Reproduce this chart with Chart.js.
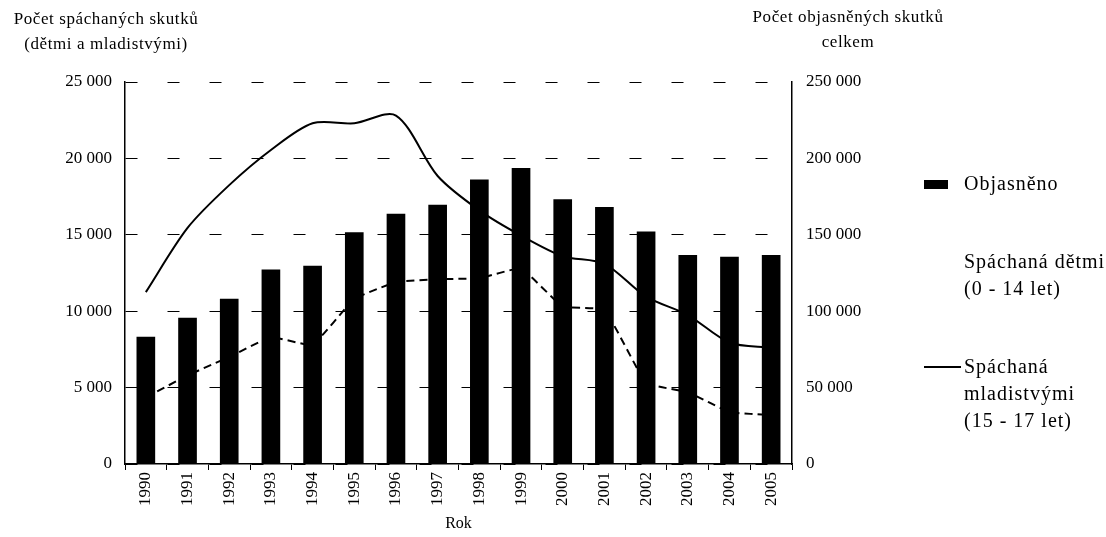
<!DOCTYPE html>
<html lang="cs">
<head>
<meta charset="utf-8">
<title>Objasněné a spáchané skutky</title>
<script src="https://cdn.jsdelivr.net/npm/chart.js@4"></script>
<style>
    body { margin: 0; background: #fff; }
    #wrap { position: relative; width: 1106px; height: 537px; font-family: "Liberation Serif", "Times New Roman", serif; color: #000; }
    #wrap canvas { position: absolute; left: 0; top: 0; }
    .axisTitle { position: absolute; font-size: 17px; letter-spacing: 0.6px; text-align: center; line-height: 25px; white-space: nowrap; }
    .legend { position: absolute; left: 922px; font-size: 20px; letter-spacing: 1px; line-height: 27px; white-space: nowrap; }
    .legend .item { position: absolute; left: 0; }
    .legend .txt { position: absolute; left: 42px; }
    .legend .box { position: absolute; left: 2px; width: 24px; height: 9px; background: #000; }
    .legend .line { position: absolute; left: 2px; width: 37px; border-top: 2px solid #000; }
</style>
</head>
<body>
<div id="wrap">
    <canvas id="casesChart" width="1106" height="537"></canvas>
    <div class="axisTitle" style="left: 0px; top: 6px; width: 212px;">Počet spáchaných skutků<br>(dětmi a mladistvými)</div>
    <div class="axisTitle" style="left: 730px; top: 4px; width: 236px;">Počet objasněných skutků<br>celkem</div>
    <div class="legend" id="legend"></div>
</div>

<script>
const years = ['1990', '1991', '1992', '1993', '1994', '1995', '1996', '1997',
               '1998', '1999', '2000', '2001', '2002', '2003', '2004', '2005'];

// objasněné skutky celkem (pravá osa)
const objasneno = [83000, 95500, 108000, 127000, 129500, 151500, 163500, 169500,
                   186000, 193500, 173000, 168000, 152000, 136500, 135500, 136500];

// spáchané skutky (levá osa)
const detmi = [4350, 5800, 7000, 8300, 7800, 10800, 11900, 12100,
               12150, 12800, 10300, 10100, 5300, 4700, 3400, 3200];
const mladistvi = [11250, 15450, 18250, 20550, 22300, 22300, 22800, 18850,
                   16600, 14950, 13600, 13100, 10950, 9750, 7950, 7600];

const leftTicks = [0, 5000, 10000, 15000, 20000, 25000];
const rightTicks = [0, 50000, 100000, 150000, 200000, 250000];

const labelObjasneno = 'Objasněno';
const labelDetmi = ['Spáchaná dětmi', '(0 - 14 let)'];
const labelMladistvi = ['Spáchaná', 'mladistvými', '(15 - 17 let)'];

function fmt(v) {
    return String(v).replace(/\B(?=(\d{3})+(?!\d))/g, ' ');
}

const tickFont = { family: '"Liberation Serif", serif', size: 17 };

const ctx = document.getElementById('casesChart').getContext('2d');
const chart = new Chart(ctx, {
    type: 'bar',
    data: {
        labels: years,
        datasets: [
            {
                label: labelObjasneno,
                data: objasneno,
                yAxisID: 'y1',
                backgroundColor: '#000',
                barThickness: 18,
                order: 0
            },
            {
                type: 'line',
                label: labelDetmi.join(' '),
                data: detmi,
                yAxisID: 'y',
                borderColor: '#000',
                borderWidth: 2,
                borderDash: [8, 5],
                pointRadius: 0,
                tension: 0.1,
                fill: false,
                order: 1
            },
            {
                type: 'line',
                label: labelMladistvi.join(' '),
                data: mladistvi,
                yAxisID: 'y',
                borderColor: '#000',
                borderWidth: 2,
                pointRadius: 0,
                tension: 0.3,
                fill: false,
                order: 1
            }
        ]
    },
    options: {
        responsive: false,
        animation: false,
        layout: { padding: { top: 82, right: 224, left: 0, bottom: 0 } },
        plugins: {
            legend: { display: false },
            tooltip: { enabled: false }
        },
        scales: {
            x: {
                grid: { offset: true, drawOnChartArea: false, color: '#000', tickLength: 6 },
                border: { color: '#000', width: 1.5 },
                ticks: { color: '#000', font: tickFont, minRotation: 90, maxRotation: 90, padding: 2 },
                title: { display: true, text: 'Rok', color: '#000', font: { family: '"Liberation Serif", serif', size: 16 }, padding: { top: 2, bottom: 4 } },
                afterFit: s => { s.height = 73; }
            },
            y: {
                position: 'left',
                min: 0,
                max: 25000,
                afterBuildTicks: s => { s.ticks = leftTicks.map(v => ({ value: v })); },
                ticks: { color: '#000', font: tickFont, padding: 13, callback: v => fmt(v) },
                grid: { color: '#000', lineWidth: 1, drawTicks: false },
                border: { color: '#000', width: 1.5, dash: [12, 30] },
                afterFit: s => { s.width = 125; }
            },
            y1: {
                position: 'right',
                min: 0,
                max: 250000,
                afterBuildTicks: s => { s.ticks = rightTicks.map(v => ({ value: v })); },
                ticks: { color: '#000', font: tickFont, padding: 14, callback: v => fmt(v) },
                grid: { drawOnChartArea: false, drawTicks: false },
                border: { color: '#000', width: 1.5 },
                afterFit: s => { s.width = 90; }
            }
        }
    }
});

// legenda vpravo
const legend = document.getElementById('legend');
legend.innerHTML =
    '<div class="item" style="top:170px"><span class="box" style="top:10px"></span><span class="txt">' + labelObjasneno + '</span></div>' +
    '<div class="item" style="top:248px"><span class="txt">' + labelDetmi.join('<br>') + '</span></div>' +
    '<div class="item" style="top:353px"><span class="line" style="top:13px"></span><span class="txt">' + labelMladistvi.join('<br>') + '</span></div>';
</script>
</body>
</html>
